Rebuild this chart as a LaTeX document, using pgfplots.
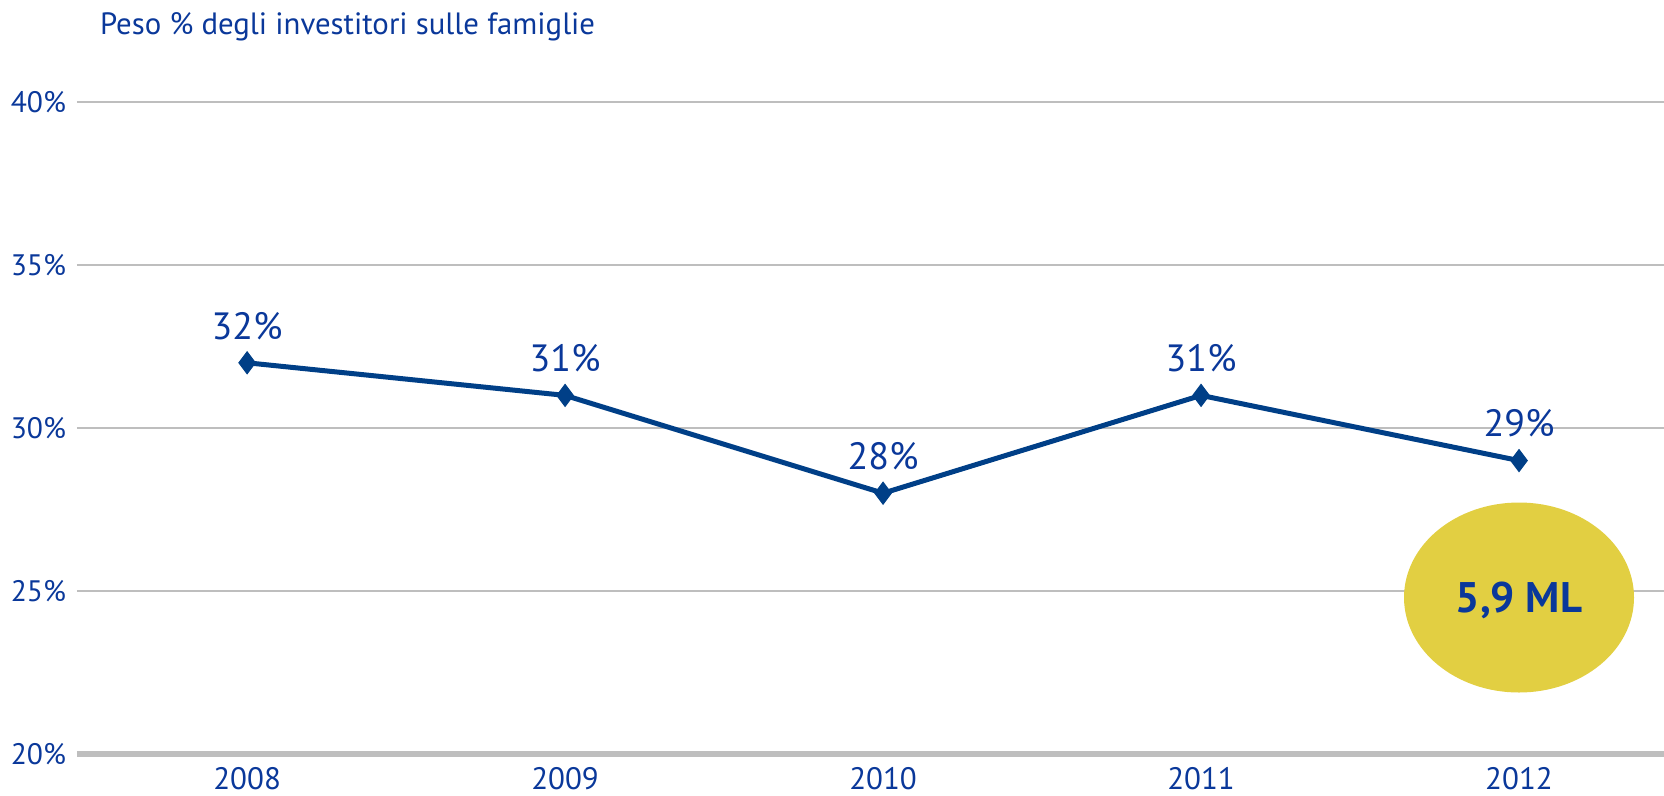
\documentclass[border=0pt]{standalone}
\usepackage{pgfplots}
\pgfplotsset{compat=1.18}
\usepackage{fontspec}
\setmainfont{PT Sans}
\definecolor{txtblue}{HTML}{0A389A}
\definecolor{lineblue}{HTML}{003F87}
\definecolor{gridgray}{HTML}{BEBEBE}
\definecolor{ellyellow}{HTML}{E2CF42}
\begin{document}
\begin{tikzpicture}
\useasboundingbox (-38.5pt,-21pt) rectangle (793.5pt,377pt);
\begin{axis}[
  scale only axis, width=793.5pt, height=326pt,
  xmin=-0.535, xmax=4.456, ymin=20, ymax=40,
  axis x line*=bottom, axis y line*=left,
  x axis line style={gridgray, line width=3pt},
  y axis line style={draw=none},
  major tick length=0pt,
  ytick={20,25,30,35,40},
  yticklabel={\pgfmathparse{int(\tick)}\pgfmathresult\%},
  xtick={0,1,2,3,4},
  xticklabels={2008,2009,2010,2011,2012},
  ymajorgrids, grid style={gridgray, line width=1.4pt},
  yticklabel style={font=\fontsize{14.8}{16}\selectfont, text=txtblue, xshift=-2pt},
  xticklabel style={font=\fontsize{15.5}{18}\selectfont, text=txtblue, yshift=-3pt},
  clip=false,
  nodes near coords,
  point meta=explicit symbolic,
  nodes near coords style={font=\fontsize{19}{22}\selectfont, text=txtblue, anchor=south, yshift=8pt},
]
\addplot[lineblue, line width=2.5pt, mark=diamond*, mark size=5.5pt, mark options={solid, fill=lineblue, line width=0.5pt}]
  coordinates {(0,32) [32\%] (1,31) [31\%] (2,28) [28\%] (3,31) [31\%] (4,29) [29\%]};
\fill[ellyellow] (axis cs:4,24.8) ellipse [x radius=57.5pt, y radius=47.5pt];
\node[font=\bfseries\fontsize{21.4}{24}\selectfont, text=txtblue] at (axis cs:4,24.7) {5,9 ML};
\node[anchor=base west, font=\fontsize{15.4}{17}\selectfont, text=txtblue] at (rel axis cs:0,1) [xshift=8pt, yshift=33.5pt] {Peso \% degli investitori sulle famiglie};
\end{axis}
\end{tikzpicture}
\end{document}
